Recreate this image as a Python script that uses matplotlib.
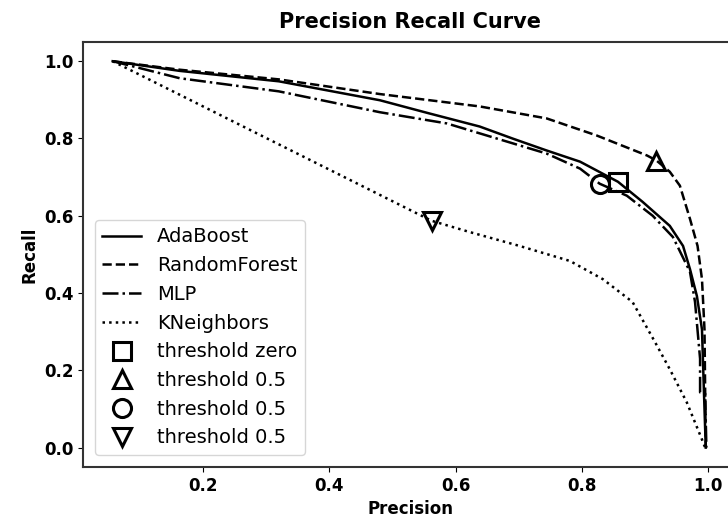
import numpy as np
import matplotlib.pyplot as plt

# precision (x) / recall (y)
ada_p = [0.057, 0.163, 0.32, 0.48, 0.558, 0.638, 0.69, 0.744, 0.797, 0.857, 0.896, 0.939, 0.960, 0.971, 0.982, 0.990, 0.993, 0.996]
ada_r = [1.0, 0.975, 0.948, 0.899, 0.865, 0.831, 0.80, 0.769, 0.740, 0.688, 0.636, 0.574, 0.522, 0.462, 0.392, 0.306, 0.15, 0.0]

rf_p = [0.057, 0.163, 0.32, 0.48, 0.638, 0.744, 0.823, 0.903, 0.918, 0.939, 0.955, 0.971, 0.983, 0.990, 0.994, 0.996]
rf_r = [1.0, 0.978, 0.953, 0.915, 0.883, 0.852, 0.808, 0.756, 0.743, 0.714, 0.678, 0.592, 0.522, 0.436, 0.306, 0.0]

mlp_p = [0.057, 0.163, 0.32, 0.48, 0.586, 0.665, 0.744, 0.797, 0.828, 0.871, 0.912, 0.944, 0.971, 0.979, 0.987, 0.987, 0.995, 0.997]
mlp_r = [1.0, 0.956, 0.922, 0.868, 0.839, 0.80, 0.761, 0.722, 0.683, 0.652, 0.60, 0.545, 0.455, 0.377, 0.23, 0.143, 0.14, 0.0]

knn_p = [0.057, 0.562, 0.622, 0.701, 0.781, 0.833, 0.880, 0.915, 0.939, 0.966, 0.990, 0.995]
knn_r = [1.0, 0.587, 0.558, 0.522, 0.483, 0.436, 0.377, 0.275, 0.203, 0.117, 0.021, 0.0]

# threshold markers
thr_labels = ['threshold zero', 'threshold 0.5', 'threshold 0.5', 'threshold 0.5']
thr_markers = ['s', '^', 'o', 'v']
thr_p = [0.857, 0.918, 0.828, 0.562]
thr_r = [0.688, 0.743, 0.683, 0.587]

fig = plt.figure(figsize=(7.28, 5.27), dpi=100)
ax = fig.add_axes([0.114, 0.114, 0.8997, 0.8065])

ax.plot(ada_p, ada_r, color='black', linestyle='-', lw=1.8, label='AdaBoost')
ax.plot(rf_p, rf_r, color='black', linestyle='--', lw=1.8, label='RandomForest')
ax.plot(mlp_p, mlp_r, color='black', linestyle='-.', lw=1.8, label='MLP')
ax.plot(knn_p, knn_r, color='black', linestyle=':', lw=1.8, label='KNeighbors')

for p, r, m, lab in zip(thr_p, thr_r, thr_markers, thr_labels):
    ax.plot(p, r, marker=m, markersize=13, mew=2.2, fillstyle='none',
            color='black', linestyle='none', label=lab)

ax.set_xlim(0.01, 1.047)
ax.set_ylim(-0.05, 1.05)
ax.set_xticks([0.2, 0.4, 0.6, 0.8, 1.0])
ax.set_yticks([0.0, 0.2, 0.4, 0.6, 0.8, 1.0])
ax.set_xticklabels(['0.2', '0.4', '0.6', '0.8', '1.0'], fontweight='bold', fontsize=12)
ax.set_yticklabels(['0.0', '0.2', '0.4', '0.6', '0.8', '1.0'], fontweight='bold', fontsize=12)
for s in ax.spines.values():
    s.set_linewidth(1.5)
    s.set_color('#333333')

ax.set_title('Precision Recall Curve', fontweight='bold', fontsize=15, pad=10)
ax.set_xlabel('Precision', fontweight='bold', fontsize=12)
ax.set_ylabel('Recall', fontweight='bold', fontsize=12)

ax.legend(loc='lower left', fontsize=14, labelspacing=0.5, borderaxespad=0.6)

fig.savefig('out.png', dpi=100)
